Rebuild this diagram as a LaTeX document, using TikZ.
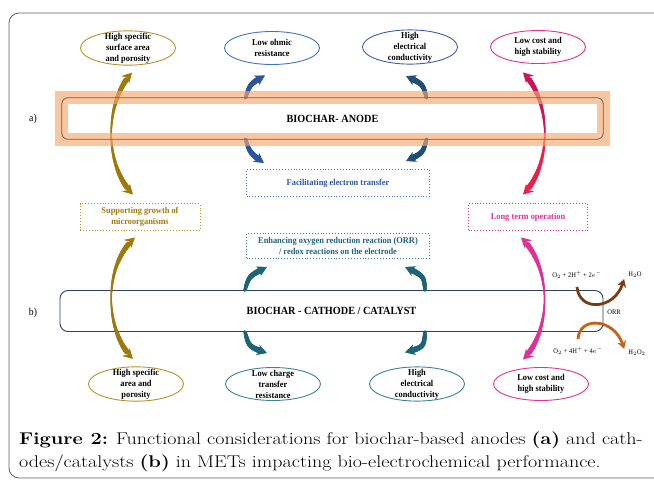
\documentclass[tikz,border=0pt]{standalone}
\usepackage{fontspec}
\usepackage{tikz}
\usetikzlibrary{arrows.meta,shapes.geometric,decorations.markings}
\newfontfamily\diagfont[FakeStretch=0.93]{Liberation Serif}
\newfontfamily\capfont[FakeStretch=1.18]{Latin Modern Roman}
\definecolor{framec}{RGB}{95, 95, 95}
\definecolor{olivec}{RGB}{181, 145, 42}
\definecolor{olivea}{RGB}{158, 122, 12}
\definecolor{bluec}{RGB}{68, 114, 196}
\definecolor{bluea}{RGB}{43, 85, 160}
\definecolor{navyc}{RGB}{61, 95, 168}
\definecolor{navya}{RGB}{31, 78, 121}
\definecolor{tealc}{RGB}{60, 129, 151}
\definecolor{teala}{RGB}{31, 99, 120}
\definecolor{magc}{RGB}{224, 48, 150}
\definecolor{maga}{RGB}{205, 20, 90}
\definecolor{redc}{RGB}{240, 30, 70}
\definecolor{bandc}{RGB}{247, 168, 108}
\definecolor{cathc}{RGB}{46, 64, 102}
\definecolor{brownc}{RGB}{122, 59, 18}
\definecolor{rustc}{RGB}{196, 98, 26}

\tikzset{
  prop/.style={ellipse, draw, line width=0.9pt, minimum width=95pt, minimum height=33pt,
    inner xsep=0pt, inner ysep=-3pt, align=center,
    font=\diagfont\bfseries\fontsize{9}{11}\selectfont},
  role/.style={draw, dotted, line width=0.9pt, minimum height=27pt, align=center,
    font=\diagfont\bfseries\fontsize{9}{11}\selectfont},
  bar/.style={minimum width=541pt, minimum height=41pt, rounded corners=6pt,
    font=\diagfont\bfseries\fontsize{11}{13}\selectfont},
  chem/.style={inner sep=1pt, font=\diagfont\fontsize{7}{8}\selectfont},
  taper/.style={line width=0.8pt, -{Stealth[length=10pt,width=11pt,inset=3.5pt]},
    postaction={decorate, decoration={markings,
      mark=between positions 0 and 0.86 step 0.5pt with {%
        \pgfmathsetmacro\tw{3.0*(0.25+0.75*\pgfkeysvalueof{/pgf/decoration/mark info/distance from start}/\pgfdecoratedpathlength)}%
        \fill circle (\tw pt);}}}},
  stub/.style={line width=0.8pt, -{Stealth[length=10pt,width=11pt,inset=3.5pt]},
    postaction={decorate, decoration={markings,
      mark=between positions 0 and 0.8 step 0.5pt with {%
        \pgfmathsetmacro\tw{3.3*(0.55+0.45*\pgfkeysvalueof{/pgf/decoration/mark info/distance from start}/\pgfdecoratedpathlength)}%
        \fill circle (\tw pt);}}}},
}

\begin{document}
\begin{tikzpicture}[x=1pt,y=-1pt]
\clip (0,0) rectangle (654,480);
\draw[framec,line width=0.8pt,rounded corners=10pt] (9,13) rectangle (700,478);

% property ellipses, anode
\node[prop,draw=olivec] (hsA) at (128,48) {High specific\\surface area\\and porosity};
\node[prop,draw=bluec] (ohm) at (272,48) {Low ohmic\\resistance};
\node[prop,draw=navyc] (condA) at (410,47) {High\\electrical\\conductivity};
\node[prop,draw=magc] (costA) at (538,47) {Low cost and\\high stability};

% electrodes
\node[bar] (anode) at (332.5,118.5) {BIOCHAR- ANODE};
\node[bar,draw=cathc,line width=0.9pt,minimum width=543pt,rounded corners=8pt] (cath) at (331.5,311) {BIOCHAR - CATHODE / CATALYST};
\node[font=\diagfont\fontsize{10.5}{12}\selectfont] (la) at (33,119) {a)};
\node[font=\diagfont\fontsize{10.5}{12}\selectfont] (lb) at (33,313) {b)};

% functions
\node[role,draw=olivec,text=olivea,minimum width=120pt] (grow) at (140,217) {Supporting growth of\\microorganisms};
\node[role,draw=bluec,text=bluea,minimum width=183pt] (etr) at (338,183) {Facilitating electron transfer};
\node[role,draw=tealc,text=teala,minimum width=183pt,minimum height=25pt] (orrbox) at (338,246) {Enhancing oxygen reduction reaction (ORR)\\/ redox reactions on the electrode};
\node[role,draw=magc,text=magc,minimum width=119pt] (ltop) at (528,217) {Long term operation};

% property ellipses, cathode
\node[prop,draw=olivec] (hsC) at (136,384) {High specific\\area and\\porosity};
\node[prop,draw=tealc] (chg) at (273,384) {Low charge\\transfer\\resistance};
\node[prop,draw=tealc] (condC) at (417,384) {High\\electrical\\conductivity};
\node[prop,draw=magc] (costC) at (541,384) {Low cost and\\high stability};

% side arrows
\coordinate (gA) at (111.25,133.5);
\coordinate (gC) at (111.25,298.5);
\coordinate (mA) at (544.75,133.5);
\coordinate (mC) at (544.5,298.5);
\draw[taper,olivea] (gA) .. controls (111.25,110.25) and (118.5,87) .. ([xshift=4pt,yshift=-7pt]hsA.south);
\draw[taper,olivea] (gA) .. controls (111.25,156.75) and (118.5,180) .. ([xshift=-7pt,yshift=8.5pt]grow.north);
\draw[taper,olivea] (gC) .. controls (111.25,275.25) and (118.5,252) .. ([xshift=-5pt,yshift=-6.5pt]grow.south);
\draw[taper,olivea] (gC) .. controls (111.25,321.75) and (118.5,345) .. ([xshift=-3pt,yshift=7.5pt]hsC.north);
\draw[taper,maga] (mA) .. controls (544.75,110.25) and (537.5,87) .. ([xshift=-15pt,yshift=-8.5pt]costA.south);
\draw[taper,redc] (mA) .. controls (544.75,156.75) and (537.5,180) .. ([xshift=-5pt,yshift=8.5pt]ltop.north);
\draw[taper,magc] (mC) .. controls (544.25,275.25) and (536.5,252) .. ([xshift=-7pt,yshift=-6.5pt]ltop.south);
\draw[taper,magc] (mC) .. controls (544.75,321.75) and (537.5,345) .. ([xshift=-18pt,yshift=7.5pt]costC.north);

% middle arrows
\draw[stub,bluea] ([xshift=-87pt]anode.north) .. controls (250,84) .. ([xshift=-7pt,yshift=-10.5pt]ohm.south);
\draw[stub,bluea] ([xshift=-87pt]anode.south) .. controls (250,153) .. ([xshift=-74pt,yshift=6pt]etr.north);
\draw[stub,navya] ([xshift=94pt]anode.north) .. controls (423,84) .. ([xshift=-4pt,yshift=-11.5pt]condA.south);
\draw[stub,navya] ([xshift=94pt]anode.south) .. controls (423,153) .. ([xshift=68pt,yshift=8pt]etr.north);
\draw[stub,teala] ([xshift=-86.5pt]cath.north) .. controls (249,276) .. ([xshift=-71pt,yshift=-8pt]orrbox.south);
\draw[stub,teala] ([xshift=-86.5pt]cath.south) .. controls (249,347) .. ([xshift=-6pt,yshift=14pt]chg.north);
\draw[stub,teala] ([xshift=93.5pt]cath.north) .. controls (424,276) .. ([xshift=67pt,yshift=-8pt]orrbox.south);
\draw[stub,teala] ([xshift=93.5pt]cath.south) .. controls (424,347) .. ([xshift=-12pt,yshift=14pt]condC.north);

% highlighted anode
\draw[bandc,line width=13pt,opacity=0.65] (anode.north west) rectangle (anode.south east);
\draw[framec,line width=0.8pt,rounded corners=6pt] (anode.north west) rectangle (anode.south east);

% ORR
\node[chem] (o1) at (577,275) {O$_2$ + 2H$^+$ + 2$e^-$};
\node[chem] (w1) at (635,275) {H$_2$O};
\node[chem] (orr) at (614,312) {ORR};
\node[chem] (o2) at (578,351) {O$_2$ + 4H$^+$ + 4$e^-$};
\node[chem] (w2) at (637,353) {H$_2$O$_2$};
\draw[brownc,line width=2.8pt,-{Stealth[length=8pt,width=9pt,inset=2.5pt]}] ([yshift=-7pt]o1.south) .. controls (579,312) and (614,310) .. ([xshift=-3pt]w1.south west);
\draw[rustc,line width=2.8pt,-{Stealth[length=8pt,width=9pt,inset=2.5pt]}] ([yshift=7pt]o2.north) .. controls (579,316) and (614,318) .. ([xshift=-3pt]w2.north west);

% caption
\node[anchor=west,align=left,inner sep=0pt,font=\capfont\fontsize{17}{23}\selectfont] (cap) at (19,451.5) {\textbf{Figure 2:} Functional considerations for biochar-based anodes \textbf{(a)} and cath-\\odes/catalysts \textbf{(b)} in METs impacting bio-electrochemical performance.};
\end{tikzpicture}
\end{document}
